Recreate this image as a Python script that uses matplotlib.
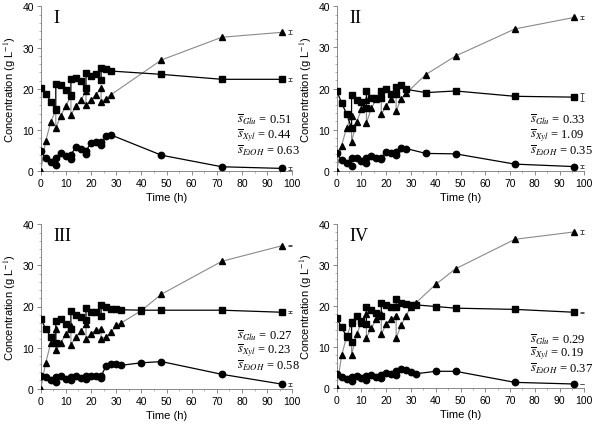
import numpy as np
import matplotlib.pyplot as plt

plt.rcParams['font.family'] = ['Liberation Sans', 'DejaVu Sans']
plt.rcParams['mathtext.fontset'] = 'stix'

# fed-batch sampling times (feeds at 6, 12, 18, 24 h give two points each)
t_a = [0, 2, 4, 6, 6, 8, 10, 12, 12, 14, 16, 18, 18, 20, 22, 24, 24, 26, 28, 48, 72, 96]
t_b = [0, 2, 4, 6, 6, 8, 10, 12, 12, 14, 16, 18, 18, 20, 22, 24, 24, 26, 28, 36, 48, 72, 96]
t_c = [0, 2, 4, 6, 6, 8, 10, 12, 12, 14, 16, 18, 18, 20, 22, 24, 24, 26, 28, 30, 32, 40, 48, 72, 96]

# panel I
sq1 = [20.2, 18.8, 16.9, 15.0, 21.1, 20.9, 19.8, 18.4, 22.3, 22.5, 21.9, 20.1, 23.9, 23.1, 23.5, 22.2, 25.0, 24.7, 24.3, 23.5, 22.3, 22.3]
tr1 = [0.0, 7.3, 12.0, 14.8, 10.5, 13.5, 15.9, 18.2, 13.7, 15.8, 17.3, 19.4, 16.1, 17.2, 18.6, 20.3, 16.9, 17.6, 18.6, 27.0, 32.5, 33.7]
ci1 = [5.0, 3.2, 2.3, 1.6, 3.3, 4.5, 3.8, 2.9, 4.0, 5.9, 5.4, 4.2, 5.0, 6.8, 7.1, 6.4, 7.0, 8.5, 8.8, 3.9, 1.1, 0.7]

# panel II
sq2 = [19.4, 16.5, 13.8, 10.3, 18.5, 17.3, 16.7, 15.3, 19.4, 17.8, 17.6, 17.7, 19.3, 19.8, 18.6, 18.6, 20.3, 20.8, 19.8, 19.0, 19.4, 18.1, 17.9]
tr2 = [0.0, 6.1, 10.5, 13.2, 7.0, 11.8, 14.9, 17.2, 11.6, 15.2, 17.5, 18.6, 13.7, 15.8, 17.5, 19.2, 14.6, 17.4, 18.8, 23.4, 27.9, 34.5, 37.3]
ci2 = [4.4, 2.6, 1.8, 1.2, 3.2, 3.2, 2.4, 1.9, 3.2, 3.6, 3.1, 2.8, 3.2, 4.6, 4.3, 3.8, 4.5, 5.5, 5.4, 4.2, 4.1, 1.6, 1.0]

# panel III
sq3 = [17.0, 14.6, 12.5, 11.0, 16.5, 16.9, 15.7, 14.5, 19.0, 18.0, 17.5, 16.8, 19.6, 18.7, 18.7, 17.7, 20.3, 19.8, 19.5, 19.3, 19.2, 19.1, 19.1, 19.1, 18.6]
tr3 = [0.0, 6.3, 11.1, 14.5, 9.3, 11.1, 13.4, 15.3, 10.7, 12.6, 14.0, 15.8, 12.2, 13.2, 14.4, 14.5, 12.2, 12.6, 13.8, 15.4, 16.0, 19.0, 23.0, 31.0, 34.8]
ci3 = [3.1, 2.8, 2.0, 1.6, 2.8, 3.0, 2.4, 2.0, 2.9, 3.1, 2.7, 2.4, 3.0, 3.1, 3.0, 2.6, 3.1, 5.5, 6.0, 5.9, 5.7, 6.3, 6.6, 3.5, 1.1]

# panel IV
sq4 = [17.0, 14.7, 12.5, 11.2, 16.0, 17.4, 16.2, 15.5, 19.7, 19.0, 18.3, 17.6, 20.7, 20.2, 19.7, 19.8, 21.6, 20.6, 20.5, 20.1, 20.2, 19.8, 19.4, 19.1, 18.4]
tr4 = [0.0, 7.9, 12.4, 15.8, 8.0, 13.0, 15.9, 18.0, 12.2, 14.6, 16.7, 18.0, 13.0, 15.6, 16.8, 17.4, 12.1, 15.2, 17.6, 19.7, 20.7, 25.2, 29.0, 36.2, 38.0]
ci4 = [3.3, 2.6, 2.2, 1.7, 2.6, 2.8, 2.3, 1.9, 2.8, 3.0, 2.6, 2.4, 3.0, 3.6, 3.4, 3.0, 4.0, 4.5, 4.2, 3.8, 3.4, 4.0, 4.0, 1.3, 0.9]

# error of the final (96 h) sample: triangles, squares, circles
err1 = [0.5, 0.4, 0.4]
err2 = [0.4, 1.0, 0.4]
err3 = [0.2, 0.2, 0.4]
err4 = [0.4, 0.1, 0.1]

roman = ['I', 'II', 'III', 'IV']
y_glu = ['0.51', '0.33', '0.27', '0.29']
y_xyl = ['0.44', '1.09', '0.23', '0.19']
y_etoh = ['0.63', '0.35', '0.58', '0.37']

panels = [(t_a, sq1, tr1, ci1, err1), (t_b, sq2, tr2, ci2, err2),
          (t_c, sq3, tr3, ci3, err3), (t_c, sq4, tr4, ci4, err4)]

W, H = 600, 427
boxes = [(40.7, 7.3, 292.3, 172.3), (336.7, 7.3, 584.3, 171.7),
         (40.7, 225.3, 292.3, 389.7), (336.7, 224.7, 584.3, 388.7)]
text_y = [(12.9, 9.0, 5.2), (12.8, 8.9, 5.1), (13.2, 9.6, 5.9), (12.0, 8.5, 4.8)]

fig = plt.figure(figsize=(6, 4.27), dpi=100)

for i, (t, sq, tr, ci, err) in enumerate(panels):
    x0, y0, x1, y1 = boxes[i]
    ax = fig.add_axes([x0 / W, 1 - y1 / H, (x1 - x0) / W, (y1 - y0) / H])

    ax.plot(t, tr, color='#8a8a8a', lw=0.8, marker='^', ms=4.6, mfc='black', mec='black', zorder=3)
    ax.plot(t, sq, color='black', lw=0.9, marker='s', ms=4.6, mfc='black', mec='black', zorder=4)
    ax.plot(t, ci, color='black', lw=0.9, marker='o', ms=4.6, mfc='black', mec='black', zorder=4)

    last = [tr[-1], sq[-1], ci[-1]]
    ax.errorbar([99, 99, 99], last, yerr=err, fmt='none', ecolor='#555555',
                elinewidth=0.7, capsize=1.5, capthick=0.7)

    ax.set_xlim(0, 100)
    ax.set_ylim(0, 40)
    ax.set_xticks(np.arange(0, 101, 10))
    ax.set_yticks([0, 10, 20, 30, 40])
    ax.set_xticks(np.arange(0, 101, 5), minor=True)
    ax.set_yticks(np.arange(0, 41, 2), minor=True)
    ax.tick_params(labelsize=7.5, length=3, width=0.6, direction='out', pad=2, color='#777777')
    ax.tick_params(which='minor', length=1.5, width=0.5, color='#999999')
    for s in ['top', 'right']:
        ax.spines[s].set_visible(False)
    for s in ['left', 'bottom']:
        ax.spines[s].set_linewidth(0.6)
        ax.spines[s].set_color('#777777')

    ax.set_xlabel('Time (h)', fontsize=8, labelpad=3)
    ax.set_ylabel('Concentration (g L$^{-1}$)', fontsize=8, labelpad=3)

    ax.text(5, 39.3, roman[i], fontsize=13, family='Liberation Serif', va='top', ha='left')

    ty = text_y[i]
    ax.text(78, ty[0], r'$\overline{s}_{Glu}$ = ' + y_glu[i], fontsize=9, family='Liberation Serif', va='center')
    ax.text(78, ty[1], r'$\overline{s}_{Xyl}$ = ' + y_xyl[i], fontsize=9, family='Liberation Serif', va='center')
    ax.text(78, ty[2], r'$\overline{s}_{EtOH}$ = ' + y_etoh[i], fontsize=9, family='Liberation Serif', va='center')

fig.savefig('out.png', dpi=100)
